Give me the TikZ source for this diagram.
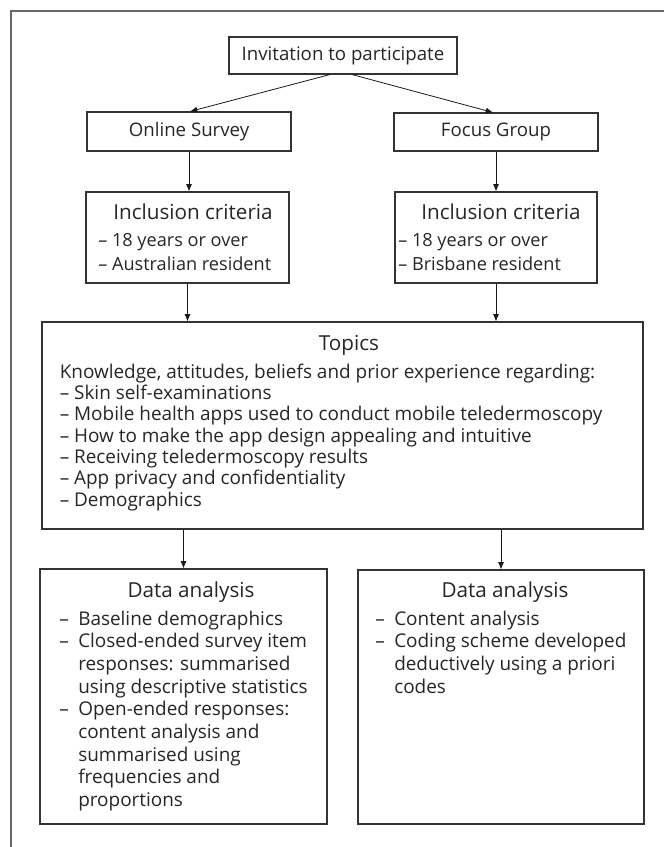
\documentclass[tikz,border=0pt]{standalone}
\usepackage{fontspec}
\setmainfont{Open Sans}
\usetikzlibrary{arrows.meta}

% bullet dash with hanging indent for the analysis lists
\newcommand{\dashitem}{\makebox[14.25pt][l]{–}}
\newcommand{\hang}{\hspace*{14.25pt}}

\begin{document}
\begin{tikzpicture}[x=0.75pt, y=-0.75pt,
    box/.style={draw=black!80, line width=0.8pt, inner sep=0pt, text=black!85,
        font=\fontsize{14}{17}\selectfont},
    title/.style={inner sep=0pt, anchor=base, text=black!85,
        font=\fontsize{15.5}{18}\selectfont},
    % lists are placed by the baseline of their last line
    list/.style={inner sep=0pt, anchor=base west, align=left, text=black!85},
    arr/.style={-{Latex[length=5.5pt,width=4.5pt]}, line width=0.6pt, black!90}]
    \useasboundingbox (0,0) rectangle (664,847);

    % outer frame (left and top edges only)
    \draw[black!60, line width=1.25pt] (11,847) -- (11,11) -- (664,11);

    % top row
    \node[box, minimum width=171pt, minimum height=27.75pt] (inv) at (343,55.5) {Invitation to participate};
    \node[box, minimum width=153pt, minimum height=29.25pt] (online) at (189,131.5) {Online Survey};
    \node[box, minimum width=153pt, minimum height=28.5pt] (focus) at (496,132) {Focus Group};

    % inclusion criteria boxes
    \node[box, minimum width=152.25pt, minimum height=68.25pt] (incl1) at (187.5,237.5) {};
    \node[box, minimum width=151.5pt, minimum height=68.25pt] (incl2) at (496,237.5) {};
    \node[title] (incl1t) at (193,219) {Inclusion criteria};
    \node[title] (incl2t) at (501,219) {Inclusion criteria};
    \node[list, font=\fontsize{13.6}{17.5}\selectfont] (incl1l) at (98,270)
        {– 18 years or over\\– Australian resident};
    \node[list, font=\fontsize{13.6}{17.5}\selectfont] (incl2l) at (398,270)
        {– 18 years or over\\– Brisbane resident};

    % topics box
    \node[box, minimum width=450.75pt, minimum height=155.25pt] (topics) at (342.5,425.5) {};
    \node[title] (topicst) at (349,350) {Topics};
    \node[list, font=\fontsize{14.2}{16}\selectfont] (topicsl) at (59.5,506)
        {Knowledge, attitudes, beliefs and prior experience regarding:\\
         – Skin self-examinations\\
         – Mobile health apps used to conduct mobile teledermoscopy\\
         – How to make the app design appealing and intuitive\\
         – Receiving teledermoscopy results\\
         – App privacy and confidentiality\\
         – Demographics};

    % data analysis boxes
    \node[box, minimum width=215.25pt, minimum height=191.25pt] (data1) at (183.5,696.5) {};
    \node[box, minimum width=214.5pt, minimum height=190.5pt] (data2) at (501,697) {};
    \node[title] (data1t) at (191,597.3) {Data analysis};
    \node[title] (data2t) at (505,597.3) {Data analysis};
    \node[list, font=\fontsize{14.2}{17}\selectfont] (data1l) at (59,806.5)
        {\dashitem Baseline demographics\\
         \dashitem Closed-ended survey item\\
         \hang responses: summarised\\
         \hang using descriptive statistics\\
         \dashitem Open-ended responses:\\
         \hang content analysis and\\
         \hang summarised using\\
         \hang frequencies and\\
         \hang proportions};
    \node[list, font=\fontsize{14.2}{17}\selectfont] (data2l) at (375,693)
        {\dashitem Content analysis\\
         \dashitem Coding scheme developed\\
         \hang deductively using a priori\\
         \hang codes};

    % arrows
    \draw[arr] ([xshift=-9.75pt]inv.south) -- ([xshift=0.75pt]online.north);
    \draw[arr] ([xshift=6.75pt]inv.south) -- ([xshift=-2.25pt]focus.north);
    \draw[arr] (online.south) -- (online.south |- incl1.north);
    \draw[arr] (focus.south) -- (focus.south |- incl2.north);
    \draw[arr] (incl1.south) -- (incl1.south |- topics.north);
    \draw[arr] (incl2.south) -- (incl2.south |- topics.north);
    \draw[arr] (data1.north |- topics.south) -- (data1.north);
    \draw[arr] (data2.north |- topics.south) -- (data2.north);
\end{tikzpicture}
\end{document}
